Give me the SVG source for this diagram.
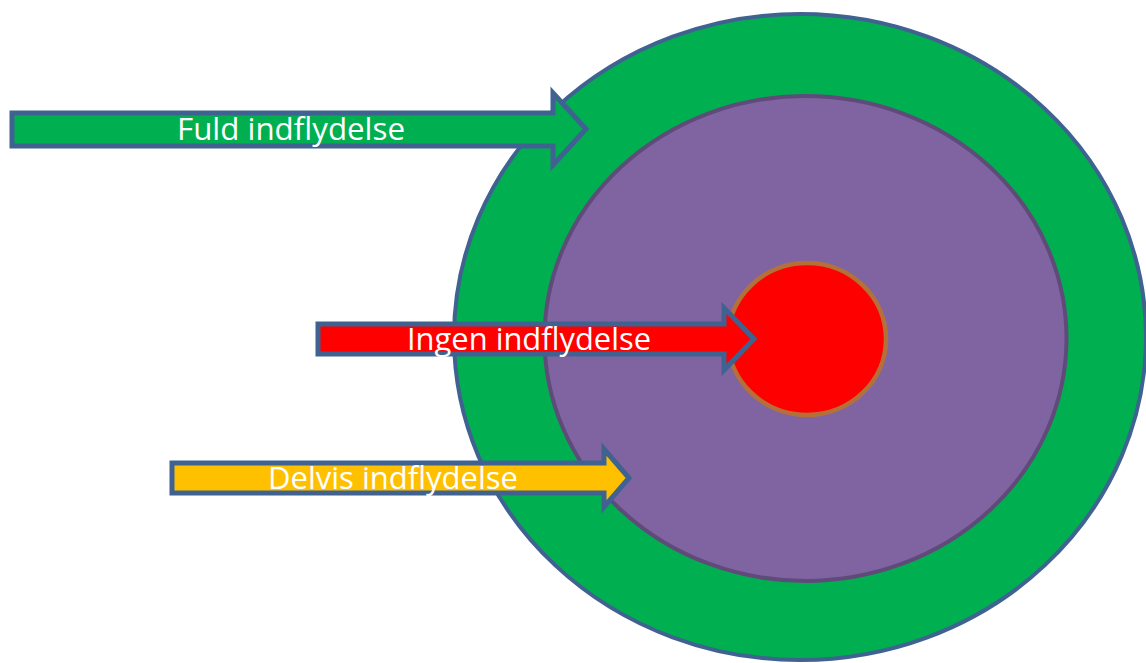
<svg xmlns="http://www.w3.org/2000/svg" width="1146" height="663" viewBox="0 0 1146 663">
<style>
.arrow{stroke:#3F6291;stroke-width:5;stroke-linejoin:miter}
.lbl{font-family:"Open Sans","Liberation Sans",sans-serif;fill:#fff;font-size:31px;text-anchor:middle}
</style>
<rect width="1146" height="663" fill="#fff"/>
<g id="outer"><ellipse cx="800" cy="337" rx="346" ry="323" fill="#00B050" stroke="#3F6291" stroke-width="4"/></g>
<g id="middle"><ellipse cx="805.5" cy="338.5" rx="261" ry="242.5" fill="#8064A2" stroke="#5F4B7A" stroke-width="4"/></g>
<g id="inner"><ellipse cx="807" cy="339" rx="79" ry="76" fill="#FF0000" stroke="#B5703A" stroke-width="4.5"/></g>
<g id="connectors">
<g id="fuld">
<path class="arrow" fill="#00B050" d="M12,113 H553 V93 L586,129 L553,165 V146 H12 Z"/>
<text class="lbl" x="291" y="140" textLength="228" lengthAdjust="spacingAndGlyphs">Fuld indflydelse</text>
</g>
<g id="ingen">
<path class="arrow" fill="#FF0000" d="M318,324 H724 V308 L754,339 L724,370 V354 H318 Z"/>
<text class="lbl" x="529" y="350" textLength="244" lengthAdjust="spacingAndGlyphs">Ingen indflydelse</text>
</g>
<g id="delvis">
<path class="arrow" fill="#FFC000" d="M172,463 H604 V449 L629,478 L604,507 V493 H172 Z"/>
<text class="lbl" x="393" y="489" textLength="250" lengthAdjust="spacingAndGlyphs">Delvis indflydelse</text>
</g>
</g>
</svg>
